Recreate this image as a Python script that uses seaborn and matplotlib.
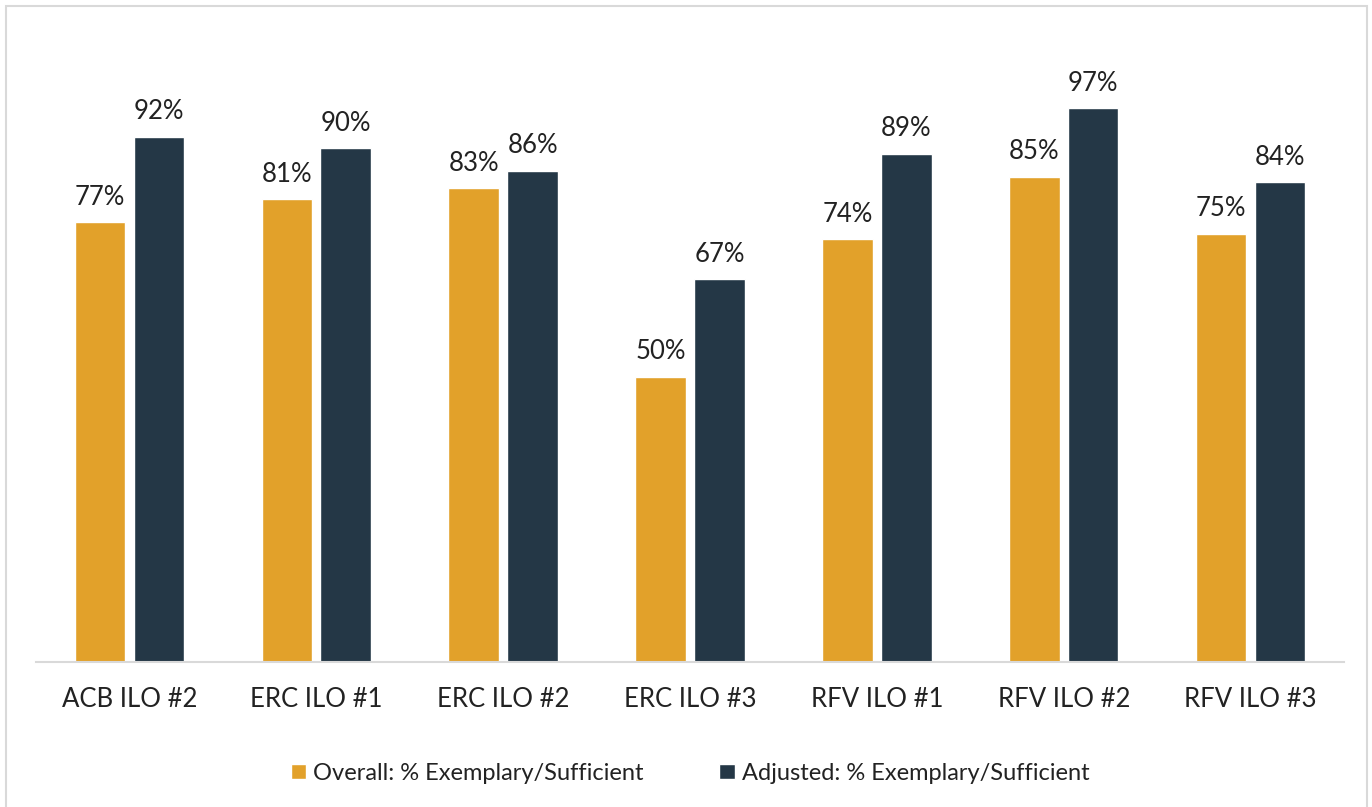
import numpy as np
import pandas as pd
import seaborn as sns
import matplotlib.pyplot as plt
from matplotlib.patches import Rectangle

categories = ["ACB ILO #2", "ERC ILO #1", "ERC ILO #2", "ERC ILO #3",
              "RFV ILO #1", "RFV ILO #2", "RFV ILO #3"]
overall = [77, 81, 83, 50, 74, 85, 75]
adjusted = [92, 90, 86, 67, 89, 97, 84]
series = ["Overall: % Exemplary/Sufficient", "Adjusted: % Exemplary/Sufficient"]
colors = ["#E2A12A", "#243746"]

df = pd.DataFrame({
    "cat": categories * 2,
    "val": overall + adjusted,
    "series": [series[0]] * len(categories) + [series[1]] * len(categories),
})

sns.set_style("white")
plt.rcParams['font.family'] = ['Lato', 'DejaVu Sans']

fig = plt.figure(figsize=(13.72, 8.07), dpi=100)
ax = fig.add_axes([36 / 1372, 1 - 662 / 807, 1308 / 1372, 571 / 807])

sns.barplot(data=df, x="cat", y="val", hue="series", palette=colors,
            width=0.63, gap=0.14, ax=ax, legend=True, saturation=1)

for cont in ax.containers:
    ax.bar_label(cont, labels=[f"{int(v)}%" for v in cont.datavalues],
                 padding=9, fontsize=18.5, color="#222222")

ax.set_ylim(0, 100)
ax.set_xlim(-0.5, len(categories) - 0.5)
ax.set_xlabel("")
ax.set_ylabel("")
ax.set_yticks([])
ax.tick_params(axis="x", labelsize=18.5, colors="#222222", pad=18, length=0)
for s in ["top", "right", "left"]:
    ax.spines[s].set_visible(False)
ax.spines["bottom"].set_color("#d9d9d9")
ax.spines["bottom"].set_linewidth(1.5)

ax.legend(loc="center", bbox_to_anchor=(0.5, -0.195), ncol=2, frameon=False,
          fontsize=17, handlelength=0.65, handleheight=0.65, handletextpad=0.3,
          columnspacing=3.2, labelcolor="#222222")

fig.add_artist(Rectangle((6 / 1372, -0.01), 1361 / 1372, 1 - 6 / 807 + 0.01,
                         transform=fig.transFigure, fill=False,
                         edgecolor="#d9d9d9", linewidth=1.5))

fig.savefig("out.png", dpi=100, facecolor="white")
